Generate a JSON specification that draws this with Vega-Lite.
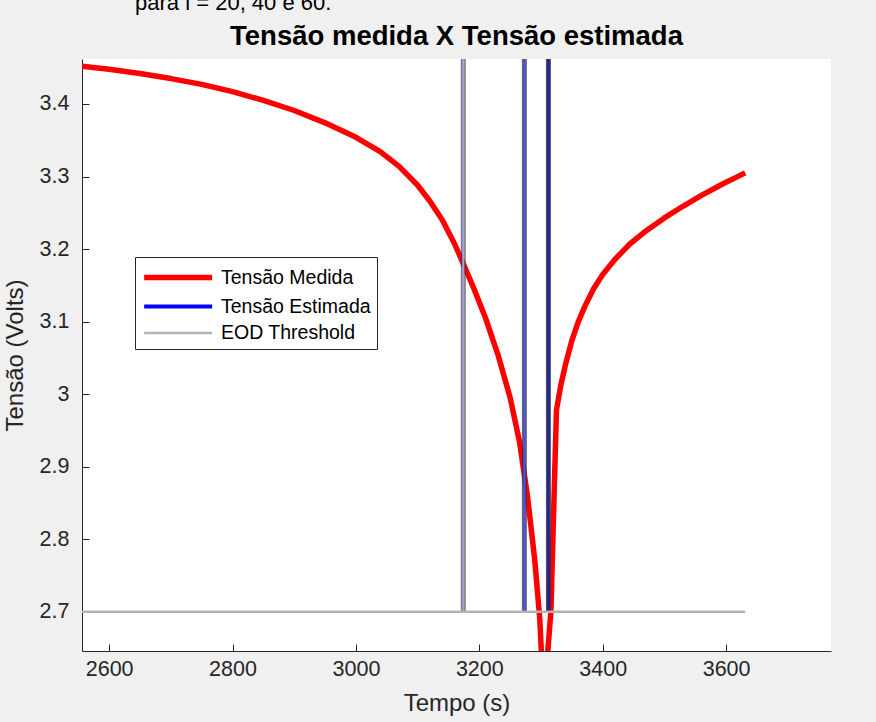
{
  "$schema": "https://vega.github.io/schema/vega-lite/v6.json",
  "width": 749,
  "height": 592,
  "autosize": {"type": "none"},
  "padding": {"left": 82, "top": 59, "right": 45, "bottom": 71},
  "background": "#f0f0f0",
  "config": {
    "view": {"fill": "white", "stroke": null},
    "font": "Liberation Sans"
  },
  "title": {
    "text": "Tensão medida X Tensão estimada",
    "fontSize": 27.5,
    "fontWeight": "bold",
    "color": "#000000",
    "anchor": "middle",
    "frame": "group",
    "offset": -81,
    "baseline": "alphabetic"
  },
  "datasets": {
    "medida": [
      {"t": 2556, "v": 3.452, "serie": "Tensão Medida"},
      {"t": 2600, "v": 3.448, "serie": "Tensão Medida"},
      {"t": 2650, "v": 3.442, "serie": "Tensão Medida"},
      {"t": 2700, "v": 3.435, "serie": "Tensão Medida"},
      {"t": 2750, "v": 3.427, "serie": "Tensão Medida"},
      {"t": 2800, "v": 3.417, "serie": "Tensão Medida"},
      {"t": 2850, "v": 3.405, "serie": "Tensão Medida"},
      {"t": 2900, "v": 3.391, "serie": "Tensão Medida"},
      {"t": 2950, "v": 3.374, "serie": "Tensão Medida"},
      {"t": 3000, "v": 3.354, "serie": "Tensão Medida"},
      {"t": 3040, "v": 3.334, "serie": "Tensão Medida"},
      {"t": 3070, "v": 3.314, "serie": "Tensão Medida"},
      {"t": 3100, "v": 3.288, "serie": "Tensão Medida"},
      {"t": 3120, "v": 3.266, "serie": "Tensão Medida"},
      {"t": 3140, "v": 3.240, "serie": "Tensão Medida"},
      {"t": 3160, "v": 3.207, "serie": "Tensão Medida"},
      {"t": 3175, "v": 3.178, "serie": "Tensão Medida"},
      {"t": 3190, "v": 3.148, "serie": "Tensão Medida"},
      {"t": 3210, "v": 3.105, "serie": "Tensão Medida"},
      {"t": 3230, "v": 3.055, "serie": "Tensão Medida"},
      {"t": 3250, "v": 2.995, "serie": "Tensão Medida"},
      {"t": 3265, "v": 2.935, "serie": "Tensão Medida"},
      {"t": 3278, "v": 2.860, "serie": "Tensão Medida"},
      {"t": 3290, "v": 2.770, "serie": "Tensão Medida"},
      {"t": 3298, "v": 2.690, "serie": "Tensão Medida"},
      {"t": 3304.5, "v": 2.576, "serie": "Tensão Medida"},
      {"t": 3311, "v": 2.646, "serie": "Tensão Medida"},
      {"t": 3316, "v": 2.700, "serie": "Tensão Medida"},
      {"t": 3325, "v": 2.978, "serie": "Tensão Medida"},
      {"t": 3332, "v": 3.012, "serie": "Tensão Medida"},
      {"t": 3340, "v": 3.042, "serie": "Tensão Medida"},
      {"t": 3350, "v": 3.074, "serie": "Tensão Medida"},
      {"t": 3360, "v": 3.099, "serie": "Tensão Medida"},
      {"t": 3371, "v": 3.121, "serie": "Tensão Medida"},
      {"t": 3385, "v": 3.145, "serie": "Tensão Medida"},
      {"t": 3400, "v": 3.165, "serie": "Tensão Medida"},
      {"t": 3420, "v": 3.186, "serie": "Tensão Medida"},
      {"t": 3444, "v": 3.207, "serie": "Tensão Medida"},
      {"t": 3470, "v": 3.225, "serie": "Tensão Medida"},
      {"t": 3500, "v": 3.243, "serie": "Tensão Medida"},
      {"t": 3530, "v": 3.259, "serie": "Tensão Medida"},
      {"t": 3560, "v": 3.274, "serie": "Tensão Medida"},
      {"t": 3595, "v": 3.290, "serie": "Tensão Medida"},
      {"t": 3631, "v": 3.305, "serie": "Tensão Medida"}
    ],
    "estimada": [
      {"t": 3174, "i": 20, "serie": "Tensão Estimada"},
      {"t": 3273, "i": 40, "serie": "Tensão Estimada"},
      {"t": 3312, "i": 60, "serie": "Tensão Estimada"}
    ],
    "limiar": [
      {"t": 2556, "v": 2.7, "serie": "EOD Threshold"},
      {"t": 3631, "v": 2.7, "serie": "EOD Threshold"}
    ],
    "nota": [
      {"label": "para i = 20, 40 e 60."}
    ]
  },
  "layer": [
    {
      "data": {"name": "medida"},
      "mark": {"type": "line", "clip": true, "strokeJoin": "round"},
      "encoding": {
        "x": {
          "field": "t",
          "type": "quantitative",
          "scale": {"domain": [2556, 3770], "nice": false, "zero": false},
          "axis": {
            "values": [2600, 2800, 3000, 3200, 3400, 3600],
            "format": "d",
            "grid": false,
            "title": "Tempo (s)",
            "titleFontSize": 24,
            "titleFontWeight": "normal",
            "titleColor": "#262626",
            "titlePadding": 12,
            "labelFontSize": 21.5,
            "labelColor": "#262626",
            "labelPadding": 14,
            "tickSize": -7,
            "tickColor": "#262626",
            "domainColor": "#262626"
          }
        },
        "y": {
          "field": "v",
          "type": "quantitative",
          "scale": {"domain": [2.646, 3.462], "nice": false, "zero": false},
          "axis": {
            "values": [2.7, 2.8, 2.9, 3.0, 3.1, 3.2, 3.3, 3.4],
            "format": ".1~f",
            "grid": false,
            "title": "Tensão (Volts)",
            "titleFontSize": 24,
            "titleFontWeight": "normal",
            "titleColor": "#262626",
            "titlePadding": 12,
            "labelFontSize": 21.5,
            "labelColor": "#262626",
            "labelPadding": 20,
            "tickSize": -7,
            "tickColor": "#262626",
            "domainColor": "#262626"
          }
        },
        "color": {
          "field": "serie",
          "type": "nominal",
          "scale": {
            "domain": ["Tensão Medida", "Tensão Estimada", "EOD Threshold"],
            "range": ["#ff0000", "#0000ff", "#b3b3b3"]
          },
          "legend": {
            "title": null,
            "orient": "none",
            "legendX": 53,
            "legendY": 198,
            "fillColor": "white",
            "strokeColor": "#262626",
            "padding": 6,
            "symbolType": "M-1,0H5",
            "symbolSize": 514,
            "symbolFillColor": "transparent",
            "labelFontSize": 19.5,
            "labelColor": "#000000",
            "labelOffset": 51,
            "rowPadding": 4,
            "symbolOffset": 0
          }
        },
        "strokeWidth": {
          "field": "serie",
          "type": "nominal",
          "scale": {
            "domain": ["Tensão Medida", "Tensão Estimada", "EOD Threshold"],
            "range": [5.5, 2.5, 4.5]
          },
          "legend": {
            "title": null,
            "orient": "none",
            "legendX": 53,
            "legendY": 198,
            "fillColor": "white",
            "strokeColor": "#262626",
            "padding": 6,
            "symbolType": "M-1,0H5",
            "symbolSize": 514,
            "symbolFillColor": "transparent",
            "labelFontSize": 19.5,
            "labelColor": "#000000",
            "labelOffset": 51,
            "rowPadding": 4,
            "symbolOffset": 0
          }
        }
      }
    },
    {
      "data": {"name": "estimada"},
      "mark": {"type": "rule", "clip": true, "color": "#333333", "strokeWidth": 5},
      "encoding": {
        "x": {"field": "t", "type": "quantitative"},
        "y": {"datum": 2.7},
        "y2": {"datum": 3.6},
        "opacity": {
          "field": "i",
          "type": "ordinal",
          "scale": {"domain": [20, 40, 60], "range": [0.65, 0.85, 1]},
          "legend": null
        }
      }
    },
    {
      "data": {"name": "estimada"},
      "mark": {"type": "rule", "clip": true, "strokeWidth": 2.2},
      "encoding": {
        "x": {"field": "t", "type": "quantitative"},
        "y": {"datum": 2.7},
        "y2": {"datum": 3.6},
        "stroke": {
          "field": "i",
          "type": "ordinal",
          "scale": {"domain": [20, 40, 60], "range": ["#a0a0dc", "#4d4df7", "#1a1aae"]},
          "legend": null
        }
      }
    },
    {
      "data": {"name": "limiar"},
      "mark": {"type": "line", "clip": true},
      "encoding": {
        "x": {"field": "t", "type": "quantitative"},
        "y": {"field": "v", "type": "quantitative"},
        "color": {"field": "serie", "type": "nominal"},
        "strokeWidth": {"field": "serie", "type": "nominal"}
      }
    },
    {
      "data": {"name": "nota"},
      "mark": {"type": "text", "align": "left", "baseline": "alphabetic", "fontSize": 22, "color": "#000000", "clip": false},
      "encoding": {
        "x": {"datum": 2642},
        "y": {"datum": 3.530},
        "text": {"field": "label", "type": "nominal"}
      }
    }
  ]
}
